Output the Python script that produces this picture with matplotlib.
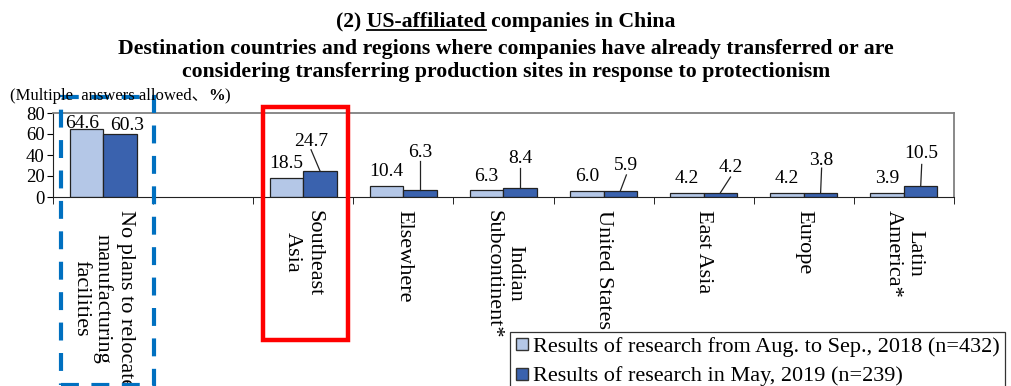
import numpy as np
import matplotlib
matplotlib.use("Agg")
import matplotlib.pyplot as plt
from matplotlib.patches import Rectangle
from matplotlib.lines import Line2D

plt.rcParams['font.family'] = ['Liberation Serif', 'Noto Sans CJK JP']

categories = ['No plans to relocate\nmanufacturing\nfacilities', '',
              'Southeast\nAsia', 'Elsewhere', 'Indian\nSubcontinent*',
              'United States', 'East Asia', 'Europe', 'Latin\nAmerica*']
res_2018 = [64.6, None, 18.5, 10.4, 6.3, 6.0, 4.2, 4.2, 3.9]
res_2019 = [60.3, None, 24.7, 6.3, 8.4, 5.9, 4.2, 3.8, 10.5]
series_names = ['Results of research from Aug. to Sep., 2018 (n=432)',
                'Results of research in May, 2019 (n=239)']

# 2019 label placement (baseline in data units, x shift, leader-line top)
lab19_y = [None, None, 48.5, 38, 32, 26, 24, 30.5, 37]
lab19_dx = [0, 0, -0.09, 0, 0, 0.06, 0.1, 0.01, 0.01]
line_top = [None, None, 45, 34, 28, 21, 19, 27.5, 31]

c_light = '#B4C7E7'
c_dark = '#3A62AE'

W, H = 1012, 386
fig = plt.figure(figsize=(W / 100, H / 100), dpi=100)
ax = fig.add_axes([53 / W, 1 - 197 / H, 901 / W, 84 / H])

x = np.arange(len(categories))
bw = 0.335
v18 = np.array([np.nan if v is None else v for v in res_2018])
v19 = np.array([np.nan if v is None else v for v in res_2019])
ax.bar(x - bw / 2, v18, bw, color=c_light, edgecolor='#222222', linewidth=0.9)
ax.bar(x + bw / 2, v19, bw, color=c_dark, edgecolor='#222222', linewidth=0.9)

fs_num = 14
for i in range(len(categories)):
    if res_2018[i] is None:
        continue
    if i == 0:
        off, dx = 1, -3
    else:
        off, dx = 7, 0
    ax.annotate(f'{res_2018[i]:.1f}', (x[i] - bw / 2, res_2018[i]),
                xytext=(dx, off), textcoords='offset points',
                ha='center', va='baseline', fontsize=fs_num,
                annotation_clip=False)
    if lab19_y[i] is None:
        ax.annotate(f'{res_2019[i]:.1f}', (x[i] + bw / 2, res_2019[i]),
                    xytext=(5, 3), textcoords='offset points',
                    ha='center', va='baseline', fontsize=fs_num,
                    annotation_clip=False)
    else:
        tx = x[i] + bw / 2 + lab19_dx[i]
        ax.text(tx, lab19_y[i], f'{res_2019[i]:.1f}', ha='center',
                va='baseline', fontsize=fs_num)
        ax.plot([x[i] + bw / 2, tx], [res_2019[i], line_top[i]],
                color='#222222', lw=0.9)

ax.set_xlim(-0.5, len(categories) - 0.5)
ax.set_ylim(0, 80)
ax.set_yticks([0, 20, 40, 60, 80])
ax.tick_params(axis='y', labelsize=13.5, length=4, direction='out', pad=2)
ax.set_xticks(x)
ax.set_xticklabels(categories, rotation=270, fontsize=16, va='top',
                   ha='center', multialignment='center')
ax.set_xticks(np.arange(len(categories) + 1) - 0.5, minor=True)
ax.tick_params(axis='x', which='major', length=0, pad=9)
ax.tick_params(axis='x', which='minor', length=5, direction='out')
for s in ['top', 'right']:
    ax.spines[s].set_color('#808080')
    ax.spines[s].set_linewidth(1.3)
for s in ['left', 'bottom']:
    ax.spines[s].set_color('#222222')

# title
fig.canvas.draw()
r = fig.canvas.get_renderer()
cx = 0.5
fs_t = 15.7
t = fig.text(cx, 1 - 22 / H, '(2) US-affiliated companies in China',
             ha='center', va='center', fontsize=fs_t, fontweight='bold')
bb = t.get_window_extent(r)
tmp = fig.text(0, 0, '(2) US-affiliated', fontsize=fs_t, fontweight='bold')
w_pre = tmp.get_window_extent(r).width
tmp.set_text('US-affiliated')
w_word = tmp.get_window_extent(r).width
tmp.remove()
x1 = bb.x0 + w_pre - w_word
x2 = bb.x0 + w_pre
uy = bb.y0 + 2
fig.add_artist(Line2D([x1 / W, x2 / W], [uy / H, uy / H], color='black',
                      lw=1.3, transform=fig.transFigure))
fig.text(cx, 1 - 49 / H, 'Destination countries and regions where companies '
         'have already transferred or are', ha='center', va='center',
         fontsize=fs_t, fontweight='bold')
fig.text(cx, 1 - 72 / H, 'considering transferring production sites in '
         'response to protectionism', ha='center', va='center',
         fontsize=fs_t, fontweight='bold')

# note with bold %
nx = 10 / W
ny = 1 - 96 / H
n1 = fig.text(nx, ny, '(Multiple  answers allowed、', fontsize=12,
              va='center')
b1 = n1.get_window_extent(r)
n2 = fig.text(b1.x1 / W, ny, '%', fontsize=12, fontweight='bold',
              va='center')
b2 = n2.get_window_extent(r)
fig.text(b2.x1 / W, ny, ')', fontsize=12, va='center')

# highlight boxes
fig.add_artist(Rectangle((263 / W, 1 - 340 / H), 85 / W, 233 / H,
                         transform=fig.transFigure, fill=False,
                         edgecolor='#FF0000', lw=3.2))
fig.add_artist(Rectangle((61 / W, 1 - 385 / H), 93 / W, 288 / H,
                         transform=fig.transFigure, fill=False,
                         edgecolor='#0070C0', lw=3, linestyle=(0, (4.3, 3))))

handles = [Line2D([], [], marker='s', linestyle='none', markersize=8,
                  markerfacecolor=c_light, markeredgecolor='#333333'),
           Line2D([], [], marker='s', linestyle='none', markersize=8,
                  markerfacecolor=c_dark, markeredgecolor='#333333')]
leg = fig.legend(handles, series_names, loc='upper left',
                 bbox_to_anchor=(510 / W, 1 - 332 / H), fontsize=16,
                 frameon=True, fancybox=False, framealpha=1,
                 edgecolor='#333333', handlelength=0.7, handletextpad=0.15,
                 labelspacing=0.4, borderpad=0.2, borderaxespad=0)
leg.get_frame().set_linewidth(0.9)

fig.savefig('out.png', dpi=100)
